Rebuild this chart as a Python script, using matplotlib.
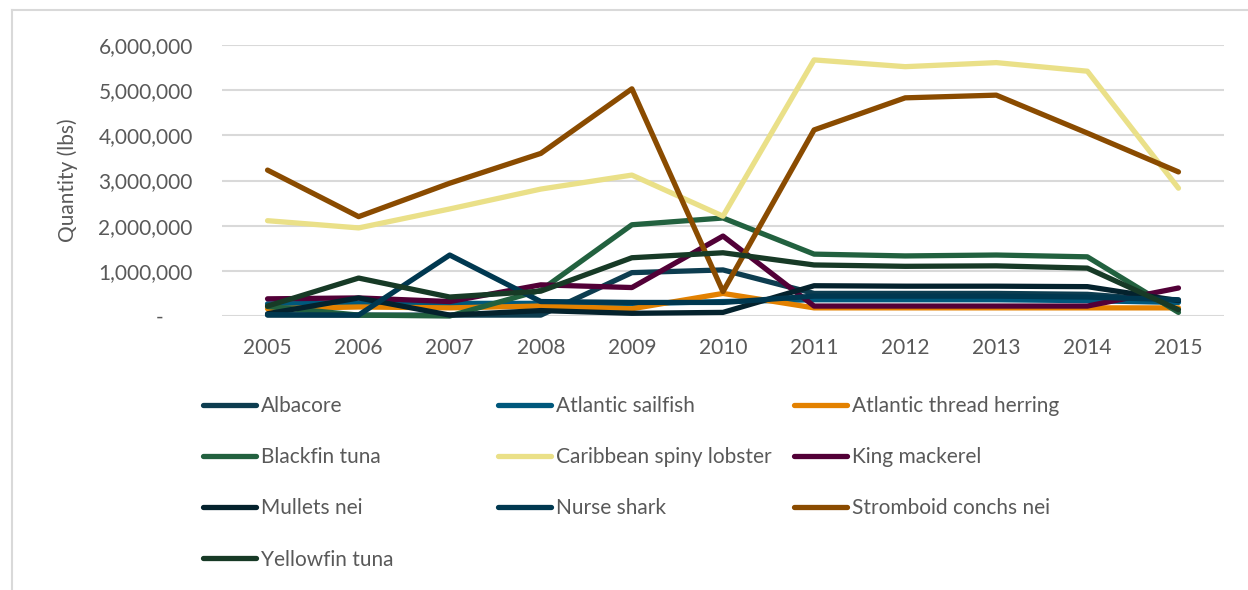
import matplotlib
matplotlib.use("Agg")
import matplotlib.pyplot as plt
from matplotlib.lines import Line2D
from matplotlib.ticker import FuncFormatter
from matplotlib.transforms import ScaledTranslation

years = ["2005", "2006", "2007", "2008", "2009", "2010", "2011", "2012", "2013", "2014", "2015"]

albacore = [20000, 20000, 20000, 20000, 960000, 1020000, 500000, 500000, 500000, 480000, 330000]
atlantic_sailfish = [270000, 280000, 280000, 280000, 270000, 320000, 360000, 360000, 360000, 340000, 300000]
atlantic_thread_herring = [160000, 200000, 180000, 220000, 160000, 500000, 180000, 180000, 180000, 180000, 180000]
blackfin_tuna = [210000, 20000, 0, 570000, 2020000, 2170000, 1370000, 1330000, 1350000, 1310000, 80000]
caribbean_spiny_lobster = [2110000, 1950000, 2370000, 2810000, 3120000, 2210000, 5670000, 5520000, 5610000, 5420000, 2830000]
king_mackerel = [380000, 400000, 320000, 690000, 630000, 1770000, 220000, 220000, 220000, 220000, 620000]
mullets_nei = [50000, 400000, 20000, 120000, 60000, 80000, 670000, 660000, 660000, 650000, 340000]
nurse_shark = [30000, 20000, 1350000, 320000, 300000, 300000, 440000, 440000, 440000, 420000, 360000]
stromboid_conchs_nei = [3230000, 2200000, 2940000, 3600000, 5030000, 540000, 4120000, 4830000, 4890000, 4050000, 3190000]
yellowfin_tuna = [220000, 840000, 420000, 550000, 1290000, 1400000, 1130000, 1100000, 1110000, 1060000, 140000]

series_names = ["Albacore", "Atlantic sailfish", "Atlantic thread herring", "Blackfin tuna",
                "Caribbean spiny lobster", "King mackerel", "Mullets nei", "Nurse shark",
                "Stromboid conchs nei", "Yellowfin tuna"]
series_values = [albacore, atlantic_sailfish, atlantic_thread_herring, blackfin_tuna,
                 caribbean_spiny_lobster, king_mackerel, mullets_nei, nurse_shark,
                 stromboid_conchs_nei, yellowfin_tuna]
colors = ["#0D3D50", "#00587C", "#E38100", "#22613F", "#EAE088", "#520037",
          "#04222D", "#003850", "#8A4B00", "#173A26"]

FONT = "Lato"
TXT = "#595959"
GRID = "#D9D9D9"
FS = 15

plt.rcParams["font.family"] = [FONT, "DejaVu Sans"]

fig = plt.figure(figsize=(12.48, 5.90), dpi=100)
fig.patch.set_facecolor("white")

W, H = 1248, 590
left, right, top, bottom = 222, 1224, 45, 316
ax = fig.add_axes([left / W, 1 - bottom / H, (right - left) / W, (bottom - top) / H])

x = list(range(len(years)))
handles = []
for i, (name, vals, c) in enumerate(zip(series_names, series_values, colors)):
    ln, = ax.plot(x, vals, color=c, lw=3.8, solid_capstyle="round",
                  solid_joinstyle="round", clip_on=False, zorder=3 + i, label=name)
    handles.append(ln)

ax.set_xlim(-0.5, len(years) - 0.5)
ax.set_ylim(0, 6000000)
ax.set_yticks([0, 1000000, 2000000, 3000000, 4000000, 5000000, 6000000])
ax.yaxis.set_major_formatter(FuncFormatter(lambda v, p: "-" if v == 0 else f"{int(v):,}"))
ax.set_xticks(x)
ax.set_xticklabels(years)
ax.tick_params(axis="both", length=0, labelsize=FS, labelcolor=TXT)
ax.tick_params(axis="y", pad=21)
ax.tick_params(axis="x", pad=16)
for s in ax.spines.values():
    s.set_visible(False)
ax.grid(axis="y", color=GRID, lw=1.5, zorder=0)
ax.set_axisbelow(True)

ax.set_ylabel("Quantity (lbs)", fontsize=FS, color=TXT)
ax.yaxis.set_label_coords((78 - left) / (right - left), 0.5)

fig.canvas.draw()
for lbl in ax.get_yticklabels():
    if lbl.get_text() == "-":
        lbl.set_transform(lbl.get_transform() + ScaledTranslation(-0.29, 0, fig.dpi_scale_trans))

# legend: three columns, row-wise order like the reference
col_starts = [203, 498, 794]
for ci, xs in enumerate(col_starts):
    idx = list(range(ci, len(handles), 3))
    leg = fig.legend([handles[k] for k in idx], [series_names[k] for k in idx],
                     loc="upper left", bbox_to_anchor=(xs / W, 1 - 396 / H),
                     frameon=False, fontsize=FS, labelcolor=TXT,
                     handlelength=2.55, handletextpad=0.25, borderpad=0,
                     borderaxespad=0, labelspacing=1.5)
    for h in leg.get_lines():
        h.set_linewidth(3.8)
        h.set_solid_capstyle("round")

# outer chart border (left and top edges)
fig.add_artist(Line2D([12 / W, 12 / W], [0, 1 - 10 / H], transform=fig.transFigure, color=GRID, lw=1.5))
fig.add_artist(Line2D([12 / W, 1], [1 - 10 / H, 1 - 10 / H], transform=fig.transFigure, color=GRID, lw=1.5))

fig.savefig("out.png", dpi=100, facecolor="white")
